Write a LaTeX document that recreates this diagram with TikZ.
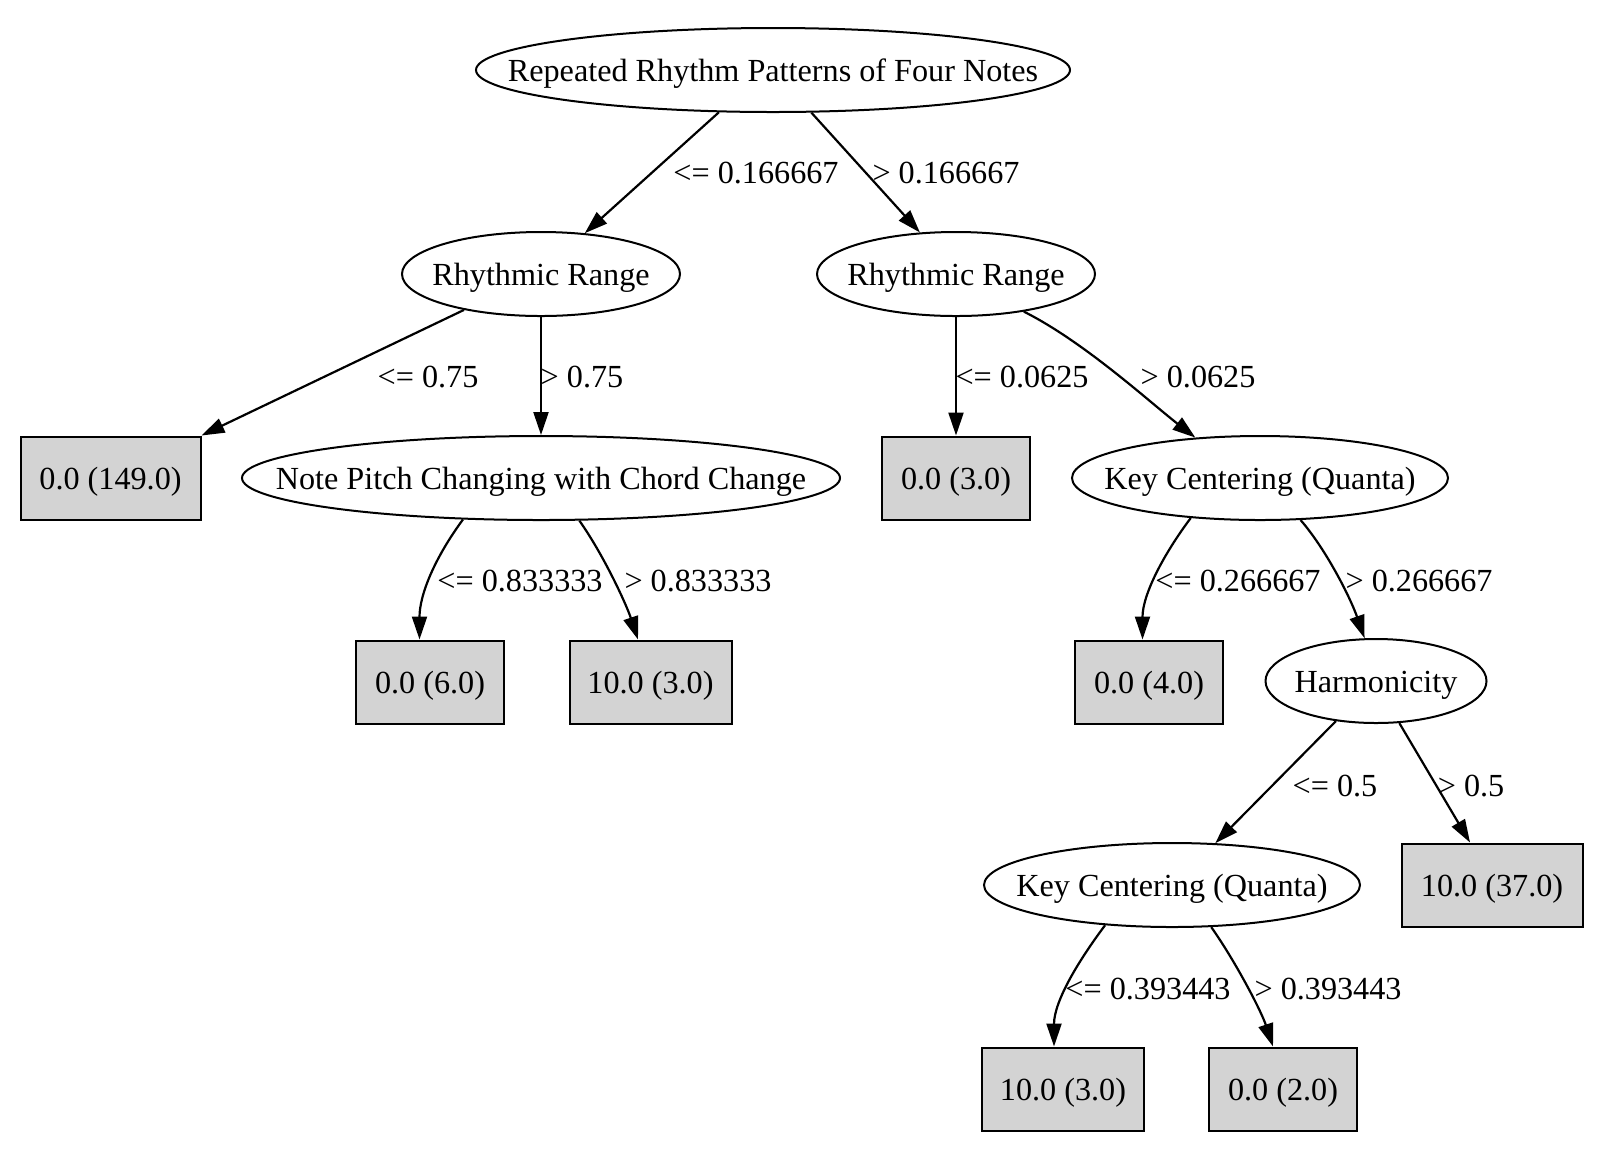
\documentclass[tikz,border=0pt]{standalone}
\usepackage{fontspec}
\setmainfont{Liberation Serif}
\usetikzlibrary{arrows.meta,shapes.geometric}
\definecolor{leafgray}{RGB}{211,211,211}
\newcommand{\zwbox}[1]{\makebox[0pt]{#1}}
\begin{document}
\begin{tikzpicture}[x=0.5pt,y=-0.5pt,
  font=\fontsize{16.1pt}{19pt}\selectfont,
  split/.style={ellipse,draw,line width=1pt,inner sep=0pt,minimum height=42pt,text height=12.8pt,text depth=1.6pt},
  leaf/.style={rectangle,draw,fill=leafgray,line width=1pt,inner sep=0pt,minimum height=41.5pt,text height=13pt,text depth=1.3pt},
  conn/.style={line width=1.1pt,-{Triangle[length=11.5pt,width=7.5pt]}},
  elabel/.style={inner sep=0pt}]
\useasboundingbox (0,0) rectangle (1604,1148);
% nodes
\node[split,minimum width=297pt] (root) at (773,70) {\zwbox{Repeated Rhythm Patterns of Four Notes}};
\node[split,minimum width=139pt] (rrl) at (541,274) {\zwbox{Rhythmic Range}};
\node[split,minimum width=139pt] (rrr) at (956,274) {\zwbox{Rhythmic Range}};
\node[leaf,minimum width=90pt] (l1) at (110.5,478) {0.0 (149.0)};
\node[split,minimum width=299pt] (np) at (541,478) {\zwbox{Note Pitch Changing with Chord Change}};
\node[leaf,minimum width=74pt] (l2) at (956,478) {0.0 (3.0)};
\node[split,minimum width=188pt] (kc1) at (1260,478) {\zwbox{Key Centering (Quanta)}};
\node[leaf,minimum width=74pt] (l3) at (430,682) {0.0 (6.0)};
\node[leaf,minimum width=81pt] (l4) at (650.5,682) {10.0 (3.0)};
\node[leaf,minimum width=74pt] (l5) at (1149,682) {0.0 (4.0)};
\node[split,minimum width=110.5pt] (harm) at (1376,681) {\zwbox{Harmonicity}};
\node[split,minimum width=188pt] (kc2) at (1172,885) {\zwbox{Key Centering (Quanta)}};
\node[leaf,minimum width=90.5pt] (l6) at (1492,885) {10.0 (37.0)};
\node[leaf,minimum width=81pt] (l7) at (1063,1089) {10.0 (3.0)};
\node[leaf,minimum width=74pt] (l8) at (1283,1089) {0.0 (2.0)};
% edges
\draw[conn] (root.218.1) -- (rrl.43.7);
\draw[conn] (root.312.5) -- (rrr.131.4);
\draw[conn] (rrl.205.5) -- (l1.north east);
\draw[conn] (rrl.south) -- (np.north);
\draw[conn] (rrr.south) -- (l2.north);
\draw[conn] (rrr.331.4) .. controls +(60,30) and +(-45,-35) .. (kc1.148.2);
\draw[conn] (np.208.8) .. controls +(-28,38) and +(0,-45) .. ([xshift=-5.25pt]l3.north);
\draw[conn] (np.312.8) .. controls +(24,34) and +(-12,-36) .. ([xshift=-6.25pt]l4.north);
\draw[conn] (kc1.210.5) .. controls +(-27,36) and +(0,-45) .. ([xshift=-3.25pt]l5.north);
\draw[conn] (kc1.314.6) .. controls +(26,30) and +(-14,-40) .. (harm.105);
\draw[conn] (harm.225.7) -- (kc2.44.3);
\draw[conn] (harm.299.8) -- ([xshift=-11pt]l6.north);
\draw[conn] (kc2.211.1) .. controls +(-27,36) and +(0,-45) .. ([xshift=-4.5pt]l7.north);
\draw[conn] (kc2.313.6) .. controls +(24,34) and +(-12,-36) .. ([xshift=-5pt]l8.north);
% labels
\node[elabel] (t1) at (756,173) {<= 0.166667};
\node[elabel] (t2) at (946,173) {> 0.166667};
\node[elabel] (t3) at (428,377) {<= 0.75};
\node[elabel] (t4) at (582,377) {> 0.75};
\node[elabel] (t5) at (1022,377) {<= 0.0625};
\node[elabel] (t6) at (1198,377) {> 0.0625};
\node[elabel] (t7) at (520,581) {<= 0.833333};
\node[elabel] (t8) at (698,581) {> 0.833333};
\node[elabel] (t9) at (1238,581) {<= 0.266667};
\node[elabel] (t10) at (1419,581) {> 0.266667};
\node[elabel] (t11) at (1335,786) {<= 0.5};
\node[elabel] (t12) at (1471,786) {> 0.5};
\node[elabel] (t13) at (1148,989) {<= 0.393443};
\node[elabel] (t14) at (1328,989) {> 0.393443};
\end{tikzpicture}
\end{document}
